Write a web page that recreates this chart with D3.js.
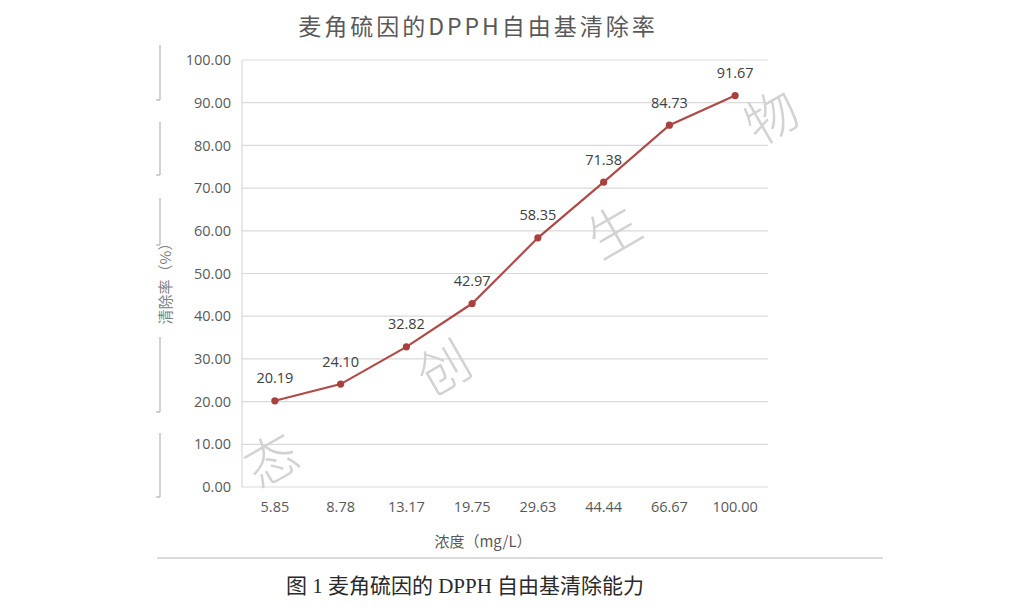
<!DOCTYPE html>
<html>
<head>
<meta charset="utf-8">
<script src="https://cdn.jsdelivr.net/npm/d3@7"></script>
<style>
  html, body { margin: 0; padding: 0; background: #fff; }
  svg { display: block; }
</style>
</head>
<body>
<svg id="chart" width="1024" height="607"></svg>
<script>
const categories = ["5.85", "8.78", "13.17", "19.75", "29.63", "44.44", "66.67", "100.00"];
const values = [20.19, 24.10, 32.82, 42.97, 58.35, 71.38, 84.73, 91.67];
const yTicks = [0, 10, 20, 30, 40, 50, 60, 70, 80, 90, 100];
const titleText = "麦角硫因的DPPH自由基清除率";
const xTitle = "浓度（mg/L）";
const yTitle = "清除率（%）";
const caption = "图 1 麦角硫因的 DPPH 自由基清除能力";
const watermark = ["态", "创", "生", "物"];
const watermarkPos = [[270, 457], [442, 365], [612, 228], [770, 114]];

(function () {
const svg = d3.select("#chart");
const pLeft = 242, pRight = 768, pTop = 60, pBottom = 487;
const x = d3.scaleBand().domain(categories).range([pLeft, pRight]).padding(0);
const y = d3.scaleLinear().domain([0, 100]).range([pBottom, pTop]);
const cx = d => x(d) + x.bandwidth() / 2;
const sans = "'Open Sans', 'Noto Sans CJK SC', sans-serif";

// left-edge artifacts (scan remnants)
const segs = [[45, 100], [122, 175], [198, 245], [337, 412], [433, 497]];
segs.forEach(s => {
  svg.append("line").attr("x1", 160).attr("x2", 160).attr("y1", s[0]).attr("y2", s[1])
    .attr("stroke", "#a5a5a5").attr("stroke-width", 1);
  svg.append("line").attr("x1", 156).attr("x2", 160).attr("y1", s[1]).attr("y2", s[1])
    .attr("stroke", "#a5a5a5").attr("stroke-width", 1);
});

// title
svg.append("text").attr("x", 478).attr("y", 25).attr("text-anchor", "middle")
  .attr("dominant-baseline", "central")
  .style("font-family", "'Noto Sans CJK SC', sans-serif").style("font-size", "23px")
  .style("letter-spacing", "3px").attr("fill", "#595959").text(titleText);

// gridlines
svg.append("g").selectAll("line").data(yTicks).join("line")
  .attr("x1", pLeft).attr("x2", pRight)
  .attr("y1", d => y(d)).attr("y2", d => y(d))
  .attr("stroke", "#d9d9d9").attr("stroke-width", 1.2);
// left axis line
svg.append("line").attr("x1", pLeft).attr("x2", pLeft).attr("y1", pTop).attr("y2", pBottom)
  .attr("stroke", "#d9d9d9").attr("stroke-width", 1.2);

// y axis labels
const yAxis = d3.axisLeft(y).tickValues(yTicks).tickFormat(d3.format(".2f")).tickSize(0).tickPadding(11);
const gy = svg.append("g").attr("transform", `translate(${pLeft},0)`).call(yAxis);
gy.select(".domain").remove();
gy.selectAll("text").style("font-family", sans).style("font-size", "14.5px").attr("fill", "#595959");

// x axis labels
const xAxis = d3.axisBottom(x).tickSize(0).tickPadding(15);
const gx = svg.append("g").attr("transform", `translate(0,${pBottom})`).call(xAxis);
gx.select(".domain").remove();
gx.selectAll("text").style("font-family", sans).style("font-size", "14.5px").attr("fill", "#595959");

// watermark
watermark.forEach((w, i) => {
  svg.append("text").attr("transform", `translate(${watermarkPos[i][0]},${watermarkPos[i][1]}) rotate(-30)`)
    .attr("text-anchor", "middle").attr("dominant-baseline", "central")
    .style("font-family", "'Noto Sans CJK SC', sans-serif").style("font-weight", 300)
    .style("font-size", "52px").attr("fill", "#d2d2d2").text(w);
});

// line
const data = categories.map((c, i) => ({ c, v: values[i] }));
svg.append("path").datum(data)
  .attr("d", d3.line().x(d => cx(d.c)).y(d => y(d.v)))
  .attr("fill", "none").attr("stroke", "#b04a47").attr("stroke-width", 2.2);
svg.append("g").selectAll("circle").data(data).join("circle")
  .attr("cx", d => cx(d.c)).attr("cy", d => y(d.v)).attr("r", 3.6).attr("fill", "#a8403d");

// data labels
svg.append("g").selectAll("text").data(data).join("text")
  .attr("x", d => cx(d.c)).attr("y", d => y(d.v) - 23)
  .attr("text-anchor", "middle").attr("dominant-baseline", "central")
  .style("font-family", sans).style("font-size", "14.5px").attr("fill", "#404040")
  .text(d => d.v.toFixed(2));

// axis titles
svg.append("text").attr("x", 483).attr("y", 540).attr("text-anchor", "middle")
  .attr("dominant-baseline", "central")
  .style("font-family", "'Noto Sans CJK SC', sans-serif").style("font-size", "15px")
  .attr("fill", "#595959").text(xTitle);
svg.append("text").attr("transform", "translate(164,280) rotate(-90)")
  .attr("text-anchor", "middle").attr("dominant-baseline", "central")
  .style("font-family", "'Noto Sans CJK SC', sans-serif").style("font-size", "15px")
  .attr("fill", "#808080").text(yTitle);

// separator line
svg.append("line").attr("x1", 157).attr("x2", 883).attr("y1", 558).attr("y2", 558)
  .attr("stroke", "#dcdcdc").attr("stroke-width", 2);

// caption
svg.append("text").attr("x", 465).attr("y", 586).attr("text-anchor", "middle")
  .attr("dominant-baseline", "central")
  .style("font-family", "'Liberation Serif', 'Noto Sans CJK SC', serif").style("font-size", "21px")
  .style("font-weight", 400).attr("fill", "#2a2a2a").text(caption);
})();
</script>
</body>
</html>
